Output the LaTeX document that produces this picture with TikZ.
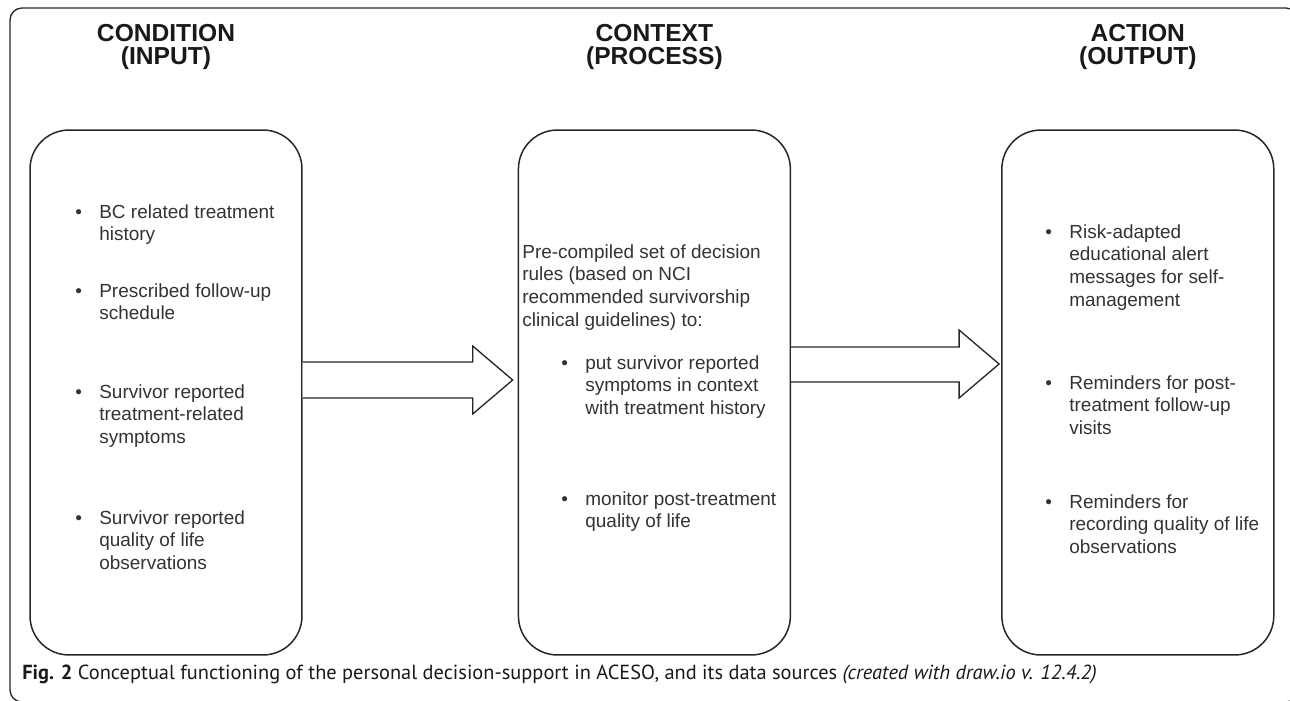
\documentclass[tikz,border=0pt]{standalone}
\usepackage{fontspec}
\setmainfont{Liberation Sans}
\newfontfamily\capfont{PT Sans}
\usetikzlibrary{positioning,calc}
\tikzstyle{bx} = [rectangle, draw=black!85, line width=0.85pt, rounded corners=0.78cm,
    minimum width=5.44cm, minimum height=10.5cm]
\tikzstyle{hdr} = [font=\fontsize{14}{13.3}\selectfont\bfseries, text=black!90, align=center, inner sep=0pt]
\tikzstyle{txt} = [font=\fontsize{10.8}{13}\selectfont, text=black!80, inner sep=0pt, anchor=base west]
\tikzstyle{bigarrow} = [draw=black!85, line width=0.75pt, fill=white, line join=miter]
\newcommand{\bul}[1]{\makebox[0.48cm][l]{\textbullet}\begin{tabular}[t]{@{}l@{}}#1\end{tabular}}
\newcommand{\lines}[1]{\begin{tabular}[t]{@{}l@{}}#1\end{tabular}}

\begin{document}
\begin{tikzpicture}[x=0.02cm,y=-0.02cm,node distance=4.3cm]
  \useasboundingbox (0,0) rectangle (1290,700);
  \draw[black!85, line width=0.75pt, rounded corners=0.24cm] (10,8) rectangle (1298,702);

  % the three stages
  \node[bx] (in) at (166,392.5) {};
  \node[bx] (ctx) [right=of in] {};
  \node[bx] (out) [right=4.2cm of ctx] {};

  \node[hdr] (hin)  [above=1.18cm of in]  {CONDITION\\(INPUT)};
  \node[hdr] (hctx) [above=1.18cm of ctx] {CONTEXT\\(PROCESS)};
  \node[hdr] (hout) [above=1.18cm of out] {ACTION\\(OUTPUT)};

  % input items
  \node[txt] (in1) at (75,218) {\bul{BC related treatment\\history}};
  \node[txt] (in2) at (75,297) {\bul{Prescribed follow-up\\schedule}};
  \node[txt] (in3) at (75,398) {\bul{Survivor reported\\treatment-related\\symptoms}};
  \node[txt] (in4) at (75,524) {\bul{Survivor reported\\quality of life\\observations}};

  % process
  \node[txt] (ctx0) at (522,258) {\lines{Pre-compiled set of decision\\rules (based on NCI\\recommended survivorship\\clinical guidelines) to:}};
  \node[txt] (ctx1) at (561,369) {\bul{put survivor reported\\symptoms in context\\with treatment history}};
  \node[txt] (ctx2) at (561,505) {\bul{monitor post-treatment\\quality of life}};

  % output items
  \node[txt] (out1) at (1045,238) {\bul{Risk-adapted\\educational alert\\messages for self-\\management}};
  \node[txt] (out2) at (1045,389) {\bul{Reminders for post-\\treatment follow-up\\visits}};
  \node[txt] (out3) at (1045,508) {\bul{Reminders for\\recording quality of life\\observations}};

  % block arrows
  \draw[bigarrow] ($(in.east)+(0,-30.5)$) -- ($(ctx.west)+(-45,-30.5)$) -- ($(ctx.west)+(-45,-46.5)$)
    -- ($(ctx.west)+(-5,-12.5)$) -- ($(ctx.west)+(-45,21.5)$) -- ($(ctx.west)+(-45,5.5)$) -- ($(in.east)+(0,5.5)$);
  \draw[bigarrow] ($(ctx.east)+(0,-45.5)$) -- ($(out.west)+(-42,-45.5)$) -- ($(out.west)+(-42,-62.5)$)
    -- ($(out.west)+(-2,-28.5)$) -- ($(out.west)+(-42,5.5)$) -- ($(out.west)+(-42,-10.5)$) -- ($(ctx.east)+(0,-10.5)$);

  \node[anchor=base west, inner sep=0pt, text=black!90, font=\capfont\fontsize{11.6}{13}\selectfont] (cap) at (22,679)
    {\textbf{Fig. 2} Conceptual functioning of the personal decision-support in ACESO, and its data sources \textit{(created with draw.io v. 12.4.2)}};
\end{tikzpicture}
\end{document}
